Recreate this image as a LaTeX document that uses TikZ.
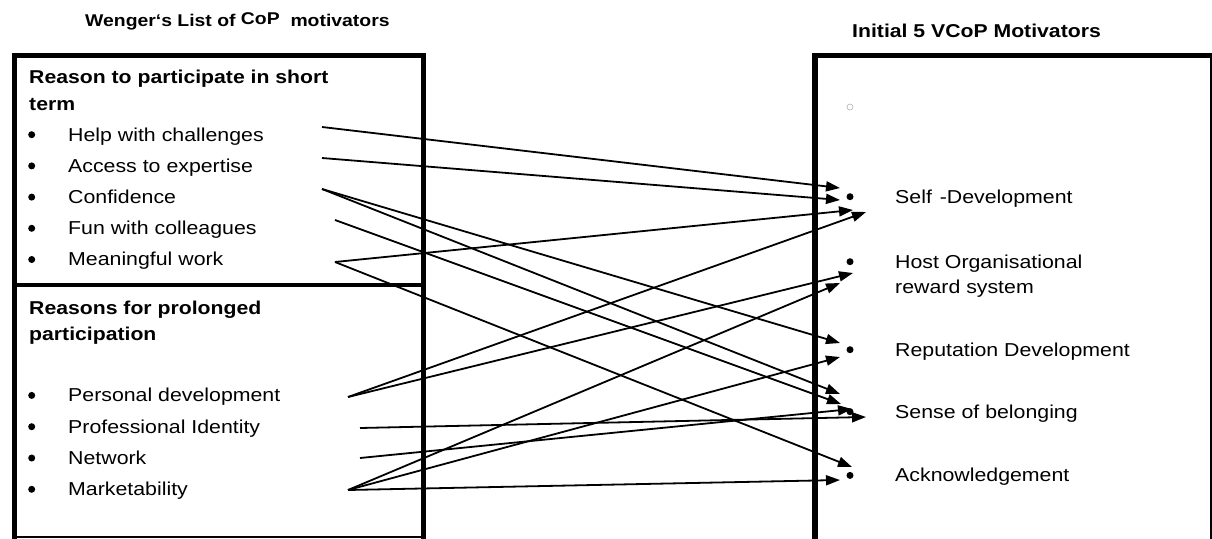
\documentclass[tikz,border=0pt]{standalone}
\usepackage{fontspec}
\setmainfont{Liberation Sans}[FakeStretch=1.14]
\usetikzlibrary{arrows.meta}
\begin{document}
\begin{tikzpicture}[x=1pt,y=-1pt,
  item/.style={anchor=base west, inner sep=0pt, font=\fontsize{18.7}{22}\selectfont},
  head/.style={anchor=base west, inner sep=0pt, font=\fontsize{18.6}{22}\selectfont\bfseries},
  ttl/.style={anchor=base west, inner sep=0pt, font=\fontsize{17}{20}\selectfont\bfseries},
  bul/.style={circle, fill=black, inner sep=0pt, minimum size=7pt},
  link/.style={line width=1.8pt, -{Triangle[length=14pt,width=10pt]}},
  heavy/.style={line width=5pt},
  light/.style={line width=1.6pt},
]
\useasboundingbox (0,0) rectangle (1212,538);

% ---- titles ----
\node[ttl] (ltitle) at (85,27) {Wenger‘s List of \raisebox{2pt}{CoP}\ \ motivators};
\node[ttl, font=\fontsize{18.6}{20}\selectfont\bfseries] (rtitle) at (852,37) {Initial 5 VCoP Motivators};

% ---- left frame ----
\draw[heavy] (14,52.5) -- (14,540);
\draw[heavy] (11.5,55) -- (425.5,55);
\draw[heavy] (423,52.5) -- (423,540);
\draw[line width=3.5pt] (14,285) -- (423,285);
\draw[light] (14,537) -- (423,537);

% ---- right frame ----
\draw[line width=6pt] (815,52.5) -- (815,540);
\draw[line width=5.5pt] (812,55.5) -- (1214,55.5);
\draw[line width=2pt] (1211,55) -- (1211,540);

% ---- short-term reasons ----
\node[head] (h1a) at (29,83) {Reason to participate in short};
\node[head] (h1b) at (29,110) {term};
\foreach \n/\y/\t in {help/141/Help with challenges,
                      access/172.2/Access to expertise,
                      conf/203.4/Confidence,
                      fun/234.6/Fun with colleagues,
                      mean/265.8/Meaningful work}{
  \node[bul] (\n-b) at (31.7,\y-6.3) {};
  \node[item] (\n) at (68,\y) {\t};
}

% ---- prolonged participation ----
\node[head] (h2a) at (29,314.5) {Reasons for prolonged};
\node[head] (h2b) at (29,340) {participation};
\foreach \n/\y/\t in {pers/401.7/Personal development,
                      prof/433/Professional Identity,
                      net/464.3/Network,
                      mark/495.6/Marketability}{
  \node[bul] (\n-b) at (31.7,\y-6.3) {};
  \node[item] (\n) at (68,\y) {\t};
}

% ---- VCoP motivators ----
\draw[gray!60, line width=0.6pt] (850,107) circle (3);
\node[bul] (sd-b) at (850,196.7) {};
\node[item] (sd) at (895,203) {Self \kern2pt-Development};
\node[bul] (host-b) at (850,261.7) {};
\node[item] (host) at (895,268) {Host Organisational};
\node[item] (host2) at (895,293.3) {reward system};
\node[bul] (rep-b) at (850,349.7) {};
\node[item] (rep) at (895,356) {Reputation Development};
\node[bul] (sob-b) at (850,411.7) {};
\node[item] (sob) at (895,418) {Sense of belonging};
\node[bul] (ack-b) at (850,475.4) {};
\node[item] (ack) at (895,481.7) {Acknowledgement};

% ---- connector end points ----
\coordinate (help-o) at (322,127);
\coordinate (access-o) at (322,158);
\coordinate (conf-o) at (322,189);
\coordinate (fun-o) at (335,220);
\coordinate (mean-o) at (335,262);
\coordinate (pers-o) at (348,397);
\coordinate (prof-o) at (360,428);
\coordinate (net-o) at (360,458);
\coordinate (mark-o) at (348,490);

\coordinate (sd-i1) at (840,188);
\coordinate (sd-i2) at (840,200);
\coordinate (sd-i3) at (853,210);
\coordinate (sd-i4) at (866,212);
\coordinate (host-i1) at (853,273);
\coordinate (host-i2) at (840,283);
\coordinate (rep-i1) at (840,343);
\coordinate (rep-i2) at (840,357);
\coordinate (sob-i1) at (840,394);
\coordinate (sob-i2) at (841,404);
\coordinate (sob-i3) at (852,409);
\coordinate (sob-i4) at (866,417);
\coordinate (ack-i1) at (852,467);
\coordinate (ack-i2) at (840,480);

% ---- connectors ----
\draw[link] (help-o) -- (sd-i1);
\draw[link] (access-o) -- (sd-i2);
\draw[link] (mean-o) -- (sd-i3);
\draw[link] (pers-o) -- (sd-i4);
\draw[link] (pers-o) -- (host-i1);
\draw[link] (mark-o) -- (host-i2);
\draw[link] (conf-o) -- (rep-i1);
\draw[link] (mark-o) -- (rep-i2);
\draw[link] (conf-o) -- (sob-i1);
\draw[link] (fun-o) -- (sob-i2);
\draw[link] (net-o) -- (sob-i3);
\draw[link] (prof-o) -- (sob-i4);
\draw[link] (mean-o) -- (ack-i1);
\draw[link] (mark-o) -- (ack-i2);
\end{tikzpicture}
\end{document}
